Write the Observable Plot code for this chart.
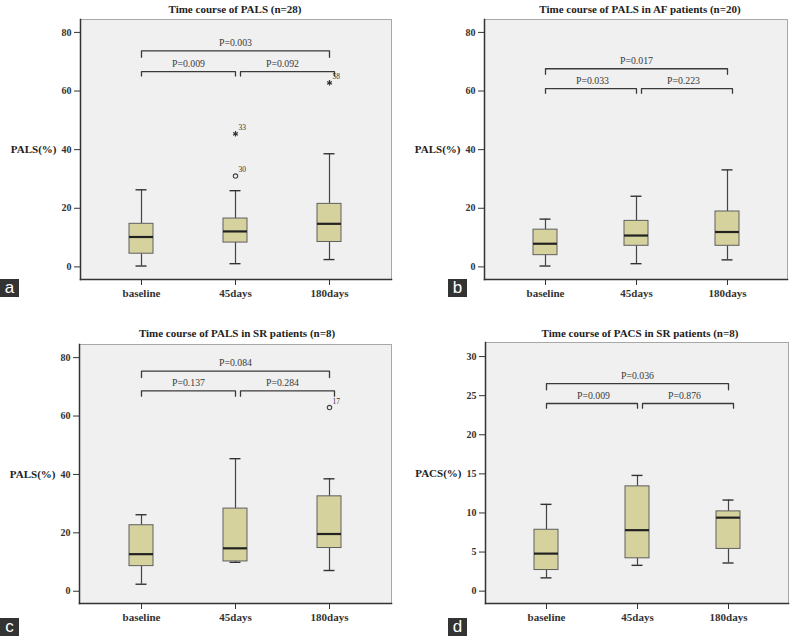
<!DOCTYPE html>
<html>
<head>
<meta charset="utf-8">
<script src="https://cdn.jsdelivr.net/npm/d3@7"></script>
<script src="https://cdn.jsdelivr.net/npm/@observablehq/plot@0.6"></script>
<style>
  body { margin: 0; background: #fff; }
  #wrap { position: relative; width: 798px; height: 636px; overflow: hidden; }
  .panel { position: absolute; }
  .title { position: absolute; font: bold 11px "Liberation Serif", serif; color: #222; white-space: nowrap; transform: translateX(-50%); }
  .tag { position: absolute; width: 19px; height: 18px; background: #333; color: #fff; font: 17px "Liberation Sans", sans-serif; text-align: center; line-height: 17px; }
</style>
</head>
<body>
<div id="wrap"></div>
<script>
// ---------- data ----------
const categories = ["baseline", "45days", "180days"];

// Panel a: PALS (n=28)
const aLow  = [0.3, 1.1, 2.5];
const aQ1   = [4.5, 8.3, 8.5];
const aMed  = [10.2, 12.1, 14.7];
const aQ3   = [14.7, 16.5, 21.5];
const aHigh = [26.3, 26.0, 38.6];
const aOutCat  = ["45days", "45days", "180days"];
const aOutVal  = [31.0, 45.4, 62.8];
const aOutId   = ["30", "33", "58"];
const aOutKind = ["circle", "star", "star"];
const aP = ["P=0.009", "P=0.092", "P=0.003"];
const aBracketLevel = [66.6, 66.6, 73.7];
const aBracketEnd   = [65.1, 65.1, 71.5];

// Panel b: PALS in AF patients (n=20)
const bLow  = [0.3, 1.1, 2.4];
const bQ1   = [4.0, 7.2, 7.2];
const bMed  = [7.9, 10.7, 11.9];
const bQ3   = [12.7, 15.7, 18.9];
const bHigh = [16.3, 24.1, 33.1];
const bP = ["P=0.033", "P=0.223", "P=0.017"];
const bBracketLevel = [60.8, 60.8, 67.6];
const bBracketEnd   = [59.2, 59.2, 65.7];

// Panel c: PALS in SR patients (n=8)
const cLow  = [2.4, 9.9, 7.1];
const cQ1   = [8.6, 10.2, 14.8];
const cMed  = [12.7, 14.7, 19.6];
const cQ3   = [22.6, 28.3, 32.5];
const cHigh = [26.2, 45.4, 38.5];
const cOutCat  = ["180days"];
const cOutVal  = [62.9];
const cOutId   = ["17"];
const cOutKind = ["circle"];
const cP = ["P=0.137", "P=0.284", "P=0.084"];
const cBracketLevel = [68.6, 68.6, 75.4];
const cBracketEnd   = [66.8, 66.8, 73.2];

// Panel d: PACS in SR patients (n=8)
const dLow  = [1.7, 3.3, 3.6];
const dQ1   = [2.7, 4.2, 5.4];
const dMed  = [4.8, 7.8, 9.4];
const dQ3   = [7.85, 13.4, 10.2];
const dHigh = [11.1, 14.8, 11.65];
const dP = ["P=0.009", "P=0.876", "P=0.036"];
const dBracketLevel = [24.0, 24.0, 26.55];
const dBracketEnd   = [23.4, 23.4, 25.75];

const bracketPairs = [[0, 1], [1, 2], [0, 2]];

// ---------- drawing ----------
const BOX_FILL = "#d6d29e";

function boxRows(low, q1, med, q3, high) {
  return categories.map((c, i) => ({cat: c, low: low[i], q1: q1[i], med: med[i], q3: q3[i], high: high[i]}));
}
function outRows(cat, val, id, kind) {
  return cat.map((c, i) => ({cat: c, v: val[i], id: id[i], kind: kind[i]}));
}

function panel(cfg) {
  const rows = boxRows(...cfg.box);
  const outs = cfg.out ? outRows(...cfg.out) : [];
  const marks = [
    Plot.frame({fill: "#f0f0f0", stroke: "#a8a8a8"}),
    Plot.frame({anchor: "left", stroke: "#333", strokeWidth: 1.5}),
    Plot.frame({anchor: "bottom", stroke: "#333", strokeWidth: 1.5}),
    Plot.axisY({ticks: cfg.ticks, tickSize: 6, tickPadding: 3, fontSize: 10, fontWeight: "bold", color: "#333", label: null}),
    Plot.axisX({tickSize: 6, tickPadding: 4, fontSize: 11, fontWeight: "bold", color: "#333", label: null}),
    Plot.text([cfg.ylabel], {frameAnchor: "left", dx: -24, textAnchor: "end", fontSize: 11, fontWeight: "bold", fill: "#222"}),
    // whiskers
    Plot.ruleX(rows, {x: "cat", y1: "low", y2: "q1", stroke: "#444", strokeWidth: 1.2}),
    Plot.ruleX(rows, {x: "cat", y1: "q3", y2: "high", stroke: "#444", strokeWidth: 1.2}),
    Plot.tickY(rows, {x: "cat", y: "low", stroke: "#333", strokeWidth: 1.4, insetLeft: 6.5, insetRight: 6.5}),
    Plot.tickY(rows, {x: "cat", y: "high", stroke: "#333", strokeWidth: 1.4, insetLeft: 6.5, insetRight: 6.5}),
    // boxes
    Plot.barY(rows, {x: "cat", y1: "q1", y2: "q3", fill: BOX_FILL, stroke: "#5e5e5e", strokeWidth: 1}),
    Plot.tickY(rows, {x: "cat", y: "med", stroke: "#222", strokeWidth: 2.2}),
    // outliers
    Plot.dot(outs.filter(d => d.kind === "circle"), {x: "cat", y: "v", r: 2.2, stroke: "#444", strokeWidth: 1.1, fill: "none"}),
    Plot.dot(outs.filter(d => d.kind === "star"), {x: "cat", y: "v", symbol: "asterisk", r: 2.6, stroke: "#333", strokeWidth: 1.2}),
    Plot.text(outs, {x: "cat", y: "v", text: "id", dx: 3, dy: -6, textAnchor: "start", fontSize: 7.5, fill: "#333"})
  ];
  // brackets and p-values
  bracketPairs.forEach(([i, j], k) => {
    const lv = cfg.level[k], en = cfg.end[k];
    const pts = [
      {cat: categories[i], v: en}, {cat: categories[i], v: lv},
      {cat: categories[j], v: lv}, {cat: categories[j], v: en}
    ];
    const dx = (k === 1) ? 5 : 0;
    marks.push(Plot.line(pts, {x: "cat", y: "v", stroke: "#3a3a3a", strokeWidth: 1.3, dx}));
    const mid = (i + j) / 2;
    const isInt = Number.isInteger(mid);
    marks.push(Plot.text([cfg.p[k]], {
      x: () => categories[isInt ? mid : i], y: () => lv,
      dx: isInt ? 0 : 47, dy: -8, fontSize: 9.8, fill: "#3a3a3a"
    }));
  });
  return Plot.plot({
    width: 399, height: 318,
    marginTop: cfg.m[0], marginRight: cfg.m[1], marginBottom: cfg.m[2], marginLeft: cfg.m[3],
    x: {type: "band", domain: categories, paddingInner: 0.74, paddingOuter: 0.52},
    y: {domain: cfg.ydomain},
    style: {fontFamily: "'Liberation Serif', serif", background: "transparent", overflow: "visible"},
    marks
  });
}

const panels = [
  {left: 0, top: 0, m: [19, 8, 39, 80], title: "Time course of PALS (n=28)", tx: 235, ty: 3, tag: "a", tagX: 0, tagY: 279,
   box: [aLow, aQ1, aMed, aQ3, aHigh], out: [aOutCat, aOutVal, aOutId, aOutKind], p: aP, level: aBracketLevel, end: aBracketEnd,
   ydomain: [-4.3, 84.4], ticks: [0, 20, 40, 60, 80], ylabel: "PALS(%)"},
  {left: 399, top: 0, m: [19, 11, 39, 85], title: "Time course of PALS in AF patients (n=20)", tx: 640, ty: 3, tag: "b", tagX: 448, tagY: 279,
   box: [bLow, bQ1, bMed, bQ3, bHigh], out: null, p: bP, level: bBracketLevel, end: bBracketEnd,
   ydomain: [-4.3, 84.4], ticks: [0, 20, 40, 60, 80], ylabel: "PALS(%)"},
  {left: 0, top: 318, m: [26, 8, 33, 79], title: "Time course of PALS in SR patients (n=8)", tx: 237, ty: 327, tag: "c", tagX: 0, tagY: 618,
   box: [cLow, cQ1, cMed, cQ3, cHigh], out: [cOutCat, cOutVal, cOutId, cOutKind], p: cP, level: cBracketLevel, end: cBracketEnd,
   ydomain: [-4.2, 84.5], ticks: [0, 20, 40, 60, 80], ylabel: "PALS(%)"},
  {left: 399, top: 318, m: [24, 10, 33, 86], title: "Time course of PACS in SR patients (n=8)", tx: 640, ty: 327, tag: "d", tagX: 448, tagY: 618,
   box: [dLow, dQ1, dMed, dQ3, dHigh], out: null, p: dP, level: dBracketLevel, end: dBracketEnd,
   ydomain: [-1.58, 31.8], ticks: [0, 5, 10, 15, 20, 25, 30], ylabel: "PACS(%)"}
];

const wrap = document.getElementById("wrap");
for (const cfg of panels) {
  const div = document.createElement("div");
  div.className = "panel";
  div.style.left = cfg.left + "px";
  div.style.top = cfg.top + "px";
  div.appendChild(panel(cfg));
  wrap.appendChild(div);
  const t = document.createElement("div");
  t.className = "title";
  t.style.left = cfg.tx + "px";
  t.style.top = cfg.ty + "px";
  t.textContent = cfg.title;
  wrap.appendChild(t);
  const g = document.createElement("div");
  g.className = "tag";
  g.style.left = cfg.tagX + "px";
  g.style.top = cfg.tagY + "px";
  g.textContent = cfg.tag;
  wrap.appendChild(g);
}
</script>
</body>
</html>
